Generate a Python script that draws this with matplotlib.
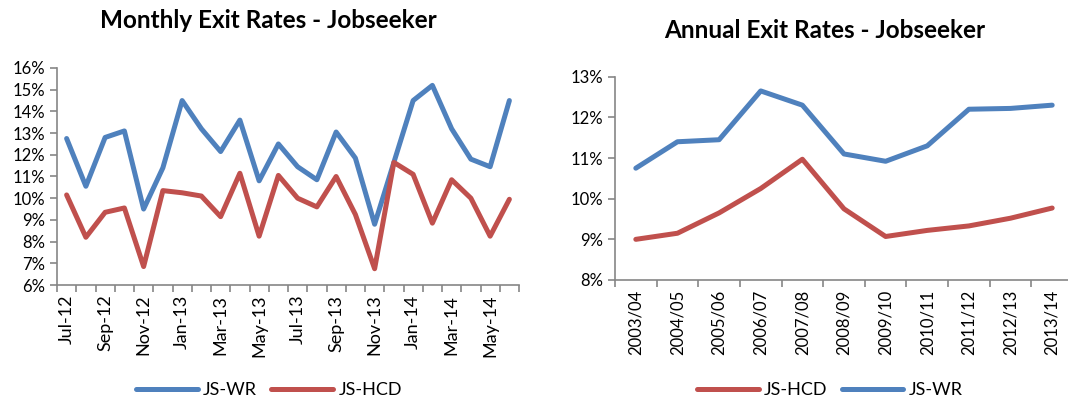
import matplotlib
matplotlib.use("Agg")
import matplotlib.pyplot as plt
from matplotlib.ticker import FuncFormatter, FixedLocator

plt.rcParams['font.family'] = ['Lato', 'DejaVu Sans']

months = ["Jul-12", "Aug-12", "Sep-12", "Oct-12", "Nov-12", "Dec-12",
          "Jan-13", "Feb-13", "Mar-13", "Apr-13", "May-13", "Jun-13",
          "Jul-13", "Aug-13", "Sep-13", "Oct-13", "Nov-13", "Dec-13",
          "Jan-14", "Feb-14", "Mar-14", "Apr-14", "May-14", "Jun-14"]
monthly_wr = [12.75, 10.55, 12.8, 13.1, 9.5, 11.4, 14.5, 13.2, 12.15, 13.6, 10.8, 12.5,
              11.45, 10.85, 13.05, 11.85, 8.8, 11.65, 14.5, 15.2, 13.2, 11.8, 11.45, 14.5]
monthly_hcd = [10.15, 8.2, 9.35, 9.55, 6.85, 10.35, 10.25, 10.1, 9.15, 11.15, 8.25, 11.05,
               10.0, 9.6, 11.0, 9.25, 6.75, 11.65, 11.1, 8.85, 10.85, 10.0, 8.25, 9.95]

years = ["2003/04", "2004/05", "2005/06", "2006/07", "2007/08", "2008/09",
         "2009/10", "2010/11", "2011/12", "2012/13", "2013/14"]
annual_hcd = [9.0, 9.15, 9.65, 10.25, 10.97, 9.75, 9.07, 9.22, 9.33, 9.52, 9.77]
annual_wr = [10.75, 11.4, 11.45, 12.65, 12.3, 11.1, 10.92, 11.3, 12.2, 12.22, 12.3]

BLUE = "#4F81BD"
RED = "#C0504D"
GRAY = "#868686"
LW = 3.6

W, H = 1068, 401
fig = plt.figure(figsize=(W / 100, H / 100), dpi=100)

def style(ax, n, labels, label_idx, xsize):
    for s in ["top", "right"]:
        ax.spines[s].set_visible(False)
    for s in ["left", "bottom"]:
        ax.spines[s].set_color(GRAY)
        ax.spines[s].set_linewidth(1.2)
    ax.set_xlim(-0.5, n - 0.5)
    ax.xaxis.set_major_locator(FixedLocator([i - 0.5 for i in range(n + 1)]))
    ax.xaxis.set_major_formatter(FuncFormatter(lambda v, p: ""))
    ax.xaxis.set_minor_locator(FixedLocator(label_idx))
    ax.set_xticklabels([labels[i] for i in label_idx], minor=True, rotation=90)
    ax.tick_params(axis="x", which="major", length=5, width=1.2, color=GRAY, direction="out")
    ax.tick_params(axis="x", which="minor", length=0, labelsize=xsize, pad=7)
    ax.tick_params(axis="y", length=5, width=1.2, color=GRAY, direction="out", labelsize=12)
    ax.yaxis.set_major_formatter(FuncFormatter(lambda v, p: f"{v:.0f}%"))

# Left chart
ax1 = fig.add_axes([57 / W, (H - 285) / H, (519 - 57) / W, (285 - 68) / H])
x1 = list(range(len(months)))
l1, = ax1.plot(x1, monthly_wr, color=BLUE, lw=LW, solid_capstyle="round", solid_joinstyle="round", label="JS-WR")
l2, = ax1.plot(x1, monthly_hcd, color=RED, lw=LW, solid_capstyle="round", solid_joinstyle="round", label="JS-HCD")
ax1.set_ylim(6, 16)
ax1.set_yticks(range(6, 17))
style(ax1, len(months), months, list(range(0, len(months), 2)), 13)
fig.text(268 / W, 1 - 20 / H, "Monthly Exit Rates - Jobseeker", ha="center", va="center",
         fontsize=17.5, fontweight="bold")
fig.legend(handles=[l1, l2], loc="center", bbox_to_anchor=(269 / W, 1 - 390 / H),
           ncol=2, frameon=False, fontsize=13, handlelength=3.4, columnspacing=0.8,
           handletextpad=0.3)

# Right chart
ax2 = fig.add_axes([615 / W, (H - 280) / H, 458 / W, (280 - 76.7) / H])
x2 = list(range(len(years)))
r1, = ax2.plot(x2, annual_hcd, color=RED, lw=LW, solid_capstyle="round", solid_joinstyle="round", label="JS-HCD")
r2, = ax2.plot(x2, annual_wr, color=BLUE, lw=LW, solid_capstyle="round", solid_joinstyle="round", label="JS-WR")
ax2.set_ylim(8, 13)
ax2.set_yticks(range(8, 14))
style(ax2, len(years), years, list(range(len(years))), 12)
fig.text(825 / W, 1 - 30 / H, "Annual Exit Rates - Jobseeker", ha="center", va="center",
         fontsize=17.5, fontweight="bold")
fig.legend(handles=[r1, r2], loc="center", bbox_to_anchor=(830 / W, 1 - 390 / H),
           ncol=2, frameon=False, fontsize=13, handlelength=3.4, columnspacing=0.8,
           handletextpad=0.3)

fig.savefig("out.png", dpi=100)
